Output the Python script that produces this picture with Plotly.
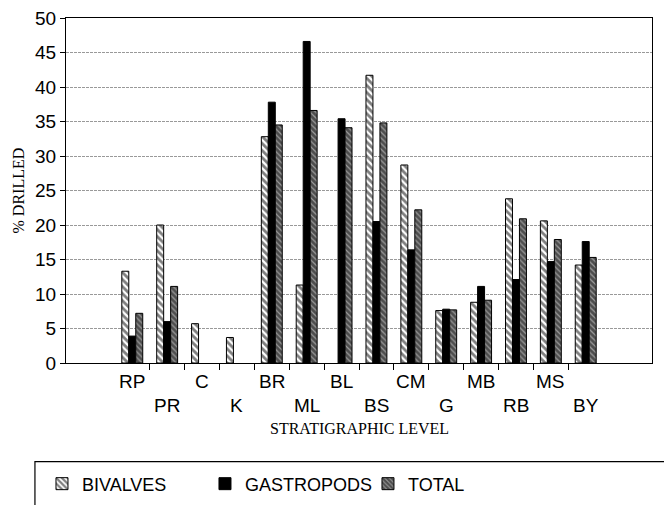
import plotly.graph_objects as go

levels = ["RP", "PR", "C", "K", "BR", "ML", "BL", "BS", "CM", "G", "MB", "RB", "MS", "BY"]
bivalves = [13.3, 20.0, 5.7, 3.7, 32.8, 11.3, None, 41.7, 28.7, 7.6, 8.8, 23.8, 20.6, 14.2]
gastropods = [3.9, 6.0, None, None, 37.8, 46.6, 35.4, 20.5, 16.4, 7.8, 11.1, 12.1, 14.7, 17.6]
total = [7.2, 11.1, None, None, 34.5, 36.6, 34.1, 34.8, 22.2, 7.7, 9.1, 20.9, 17.9, 15.3]

x = list(range(len(levels)))
SANS = "Liberation Sans, Arial, sans-serif"
SERIF = "Liberation Serif, Times New Roman, serif"

fig = go.Figure()
fig.add_trace(go.Bar(
    x=x, y=bivalves, name="BIVALVES",
    marker=dict(color="white", line=dict(color="black", width=1),
                pattern=dict(shape="\\", fgcolor="black", bgcolor="white", size=5, solidity=0.55)),
))
fig.add_trace(go.Bar(
    x=x, y=gastropods, name="GASTROPODS",
    marker=dict(color="black", line=dict(color="black", width=1)),
))
fig.add_trace(go.Bar(
    x=x, y=total, name="TOTAL",
    marker=dict(color="black", line=dict(color="black", width=1),
                pattern=dict(shape="\\", fgcolor="black", bgcolor="#9a9a9a", size=4, solidity=0.7)),
))

annotations = []
for i, lab in enumerate(levels):
    annotations.append(dict(
        x=i, y=0, xref="x", yref="paper", text=lab, showarrow=False,
        yanchor="middle", yshift=-18 if i % 2 == 0 else -42,
        font=dict(family=SANS, size=19, color="black")))
annotations.append(dict(
    x=0.5, y=0, xref="paper", yref="paper", text="STRATIGRAPHIC LEVEL", showarrow=False,
    yanchor="middle", yshift=-65, font=dict(family=SERIF, size=16, color="black")))
annotations.append(dict(
    x=0, y=0.5, xref="paper", yref="paper", text="% DRILLED", showarrow=False,
    textangle=-90, xanchor="center", xshift=-48, font=dict(family=SERIF, size=16, color="black")))

fig.update_layout(
    width=672, height=505,
    margin=dict(l=58, r=28, t=10, b=150, autoexpand=False),
    paper_bgcolor="white", plot_bgcolor="white",
    barmode="group", bargap=0.4, bargroupgap=0,
    font=dict(family=SANS, size=18, color="black"),
    annotations=annotations,
    showlegend=True,
    legend=dict(orientation="h", x=-0.041, xanchor="left", y=-0.297, yanchor="top",
                entrywidth=118, entrywidthmode="pixels",
                font=dict(family=SANS, size=18, color="black"),
                bgcolor="rgba(0,0,0,0)", borderwidth=0, traceorder="normal"),
    shapes=[dict(type="rect", xref="paper", yref="paper",
                 x0=-0.053, x1=1.2, y0=-0.45, y1=-0.286,
                 line=dict(color="black", width=1.2), fillcolor="rgba(0,0,0,0)")],
)
fig.update_xaxes(
    range=[-1.9, 14.9], tickmode="array",
    tickvals=[i + 0.5 for i in range(len(levels) - 1)], ticktext=[""] * (len(levels) - 1),
    ticks="outside", ticklen=6, tickcolor="black", showgrid=False, zeroline=False,
    showline=True, linecolor="black", linewidth=1.2, mirror=True,
)
fig.update_yaxes(
    range=[0, 50], dtick=5, ticks="outside", ticklen=5, tickcolor="black",
    showgrid=True, gridcolor="#999999", griddash="3px,1px", gridwidth=1,
    zeroline=False, showline=True, linecolor="black", linewidth=1.2, mirror=True,
    tickfont=dict(family=SANS, size=19, color="black"), ticklabeloverflow="allow",
)

fig.write_html("out.html")
